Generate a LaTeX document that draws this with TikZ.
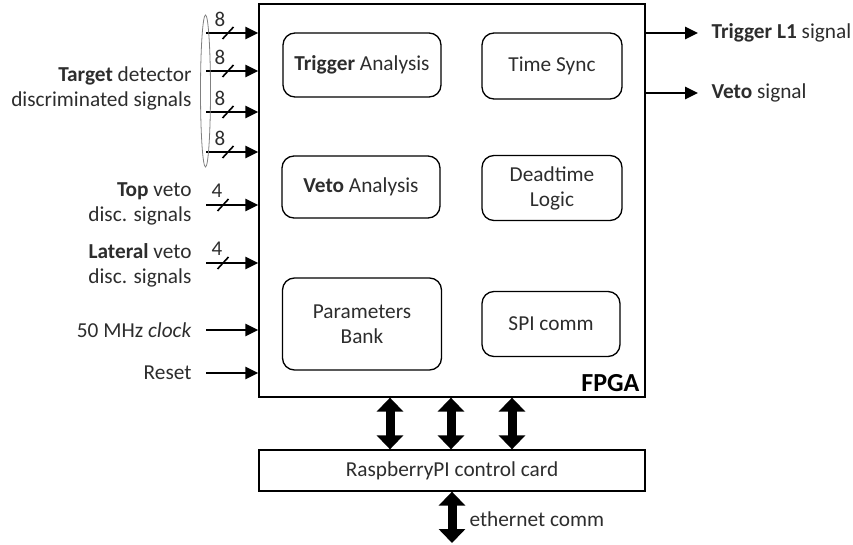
\documentclass[tikz,border=0pt]{standalone}
\usepackage{fontspec}
\setmainfont{Carlito}
\usetikzlibrary{arrows.meta, positioning, calc}
\definecolor{fgtext}{RGB}{45,45,45}

\begin{document}
\begin{tikzpicture}[x=1pt, y=-1pt,
  every node/.style={font=\fontsize{21.3}{25}\selectfont, text=fgtext},
  block/.style={draw, rounded corners=12pt, line width=1.3pt, align=center, inner sep=0pt},
  card/.style={draw, line width=1.3pt, inner sep=0pt},
  sig/.style={line width=2.6pt, -{Triangle[length=13pt,width=12pt]}},
  bus/.style={line width=1.6pt},
  fat/.style={line width=9pt, {Triangle[length=14pt,width=26pt]}-{Triangle[length=14pt,width=26pt]}}]
\useasboundingbox (0,0) rectangle (853,545);

% FPGA and its blocks
\node[card, minimum width=386pt, minimum height=393pt] (fpga) at (452,200.5) {};
\node[anchor=south east, inner sep=6pt, text=black, font=\fontsize{26}{30}\selectfont\bfseries] (fpgalbl) at (fpga.south east) {FPGA};
\node[block, minimum width=158pt, minimum height=64pt] (trig) at (362,65) {\textbf{Trigger} Analysis};
\node[block, minimum width=140pt, minimum height=66pt] (sync) at (552,66) {Time Sync};
\node[block, minimum width=158pt, minimum height=62pt] (veto) at (361,187) {\textbf{Veto} Analysis};
\node[block, minimum width=140pt, minimum height=65pt] (dead) at (552,188) {Deadtime\\Logic};
\node[block, minimum width=159pt, minimum height=92pt] (param) at (362,324) {Parameters\\Bank};
\node[block, minimum width=138pt, minimum height=65pt] (spi) at (551,324) {SPI comm};

% Control card
\node[card, minimum width=386pt, minimum height=41pt] (rpi) at (452,470.5) {RaspberryPI control card};
\foreach \x in {390,451,512} {
  \coordinate (b\x) at (\x,420);
  \draw[fat] (b\x |- fpga.south) -- (b\x |- rpi.north);
}
\coordinate (ethend) at (452,543);
\draw[fat] (rpi.south) -- (ethend);
\node[anchor=west] (eth) at (466,519) {ethernet comm};

% Target detector inputs (8-bit buses)
\node[anchor=east, align=right] (tgt) at (195,88) {\textbf{Target} detector\\discriminated signals};
\foreach \y [count=\i] in {33,71,112,152} {
  \coordinate (t\i) at (206,\y);
  \draw[sig] (t\i) -- (t\i -| fpga.west);
  \draw[bus] ($(t\i)+(16.5,6)$) -- ++(11,-12);
  \node[font=\fontsize{21}{24}\selectfont] (n\i) at ($(t\i)+(14,-14)$) {8};
}
\draw[gray, line width=0.8pt] (205.5,91) ellipse [x radius=5, y radius=76];

% Veto inputs (4-bit buses)
\node[anchor=east, align=right] (topv) at (195,203.5) {\textbf{Top} veto\\disc. signals};
\node[anchor=east, align=right] (latv) at (195,265) {\textbf{Lateral} veto\\disc. signals};
\coordinate (v1) at (206,205);
\coordinate (v2) at (206,263);
\foreach \i in {1,2} {
  \draw[sig] (v\i) -- (v\i -| fpga.west);
  \draw[bus] ($(v\i)+(11.5,6)$) -- ++(11,-12);
  \node[font=\fontsize{21}{24}\selectfont] (m\i) at ($(v\i)+(11,-14)$) {4};
}

% Clock and reset
\node[anchor=east] (clk) at (195,330) {50 MHz \textit{clock}};
\node[anchor=east] (rst) at (195,373) {Reset};
\draw[sig] ([xshift=11pt]clk.east) -- (clk -| fpga.west);
\draw[sig] ([xshift=11pt]rst.east) -- (rst -| fpga.west);

% Outputs
\node[anchor=west] (trigl1) at (708,33) {\textbf{Trigger L1} signal};
\node[anchor=west] (vetos) at (708,93) {\textbf{Veto} signal};
\draw[sig] (trigl1.west -| fpga.east) -- ([xshift=-10pt]trigl1.west);
\draw[sig] (vetos.west -| fpga.east) -- ([xshift=-10pt]vetos.west);
\end{tikzpicture}
\end{document}
